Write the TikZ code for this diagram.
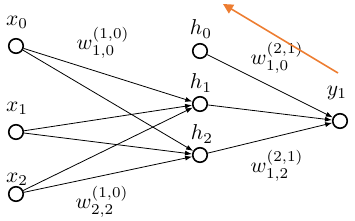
\documentclass[tikz,border=0pt]{standalone}
\usetikzlibrary{arrows.meta}
\definecolor{offorange}{HTML}{ED7D31}
\begin{document}
\begin{tikzpicture}[x=1pt,y=-1pt,
  neuron/.style={circle,draw,line width=1.6pt,minimum size=14.5pt,inner sep=0pt},
  lbl/.style={inner sep=0pt,scale=2.15,transform shape},
  edge/.style={line width=0.8pt,-{Latex[length=7pt,width=5pt]}}]
\useasboundingbox (0,0) rectangle (355,220);
\node[neuron] (x0) at (16,46) {};
\node[neuron] (x1) at (16,132) {};
\node[neuron] (x2) at (16,194) {};
\node[neuron] (h0) at (200,51) {};
\node[neuron] (h1) at (200,104) {};
\node[neuron] (h2) at (200,155) {};
\node[neuron] (y1) at (340,121) {};
\node[lbl] (lx0) at (17,22) {$x_0$};
\node[lbl] (lx1) at (17,108) {$x_1$};
\node[lbl] (lx2) at (17,179) {$x_2$};
\node[lbl] (lh0) at (201,29) {$h_0$};
\node[lbl] (lh1) at (201,83) {$h_1$};
\node[lbl] (lh2) at (202,134) {$h_2$};
\node[lbl] (ly1) at (337,93) {$y_1$};
\node[lbl] (w1) at (103,43) {$w_{1,0}^{(1,0)}$};
\node[lbl] (w2) at (102,202) {$w_{2,2}^{(1,0)}$};
\node[lbl] (w3) at (277,58) {$w_{1,0}^{(2,1)}$};
\node[lbl] (w4) at (277,166) {$w_{1,2}^{(2,1)}$};
\foreach \s in {x0,x1,x2}{
  \draw[edge] (\s) -- (h1);
  \draw[edge] (\s) -- (h2);
}
\foreach \s in {h0,h1,h2}{
  \draw[edge] (\s) -- (y1);
}
\coordinate (oa) at (338,73);
\coordinate (ob) at (223,4);
\draw[line width=1.6pt,color=offorange,-{Triangle[length=10pt,width=10pt]}] (oa) -- (ob);
\end{tikzpicture}
\end{document}
